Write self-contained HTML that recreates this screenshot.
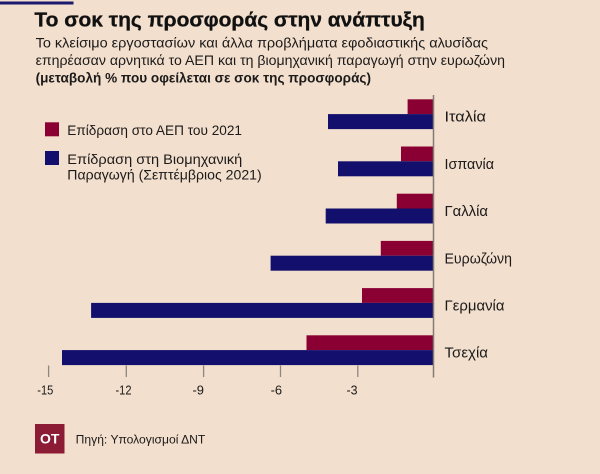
<!DOCTYPE html>
<html>
<head>
<meta charset="utf-8">
<style>
  html, body { margin: 0; padding: 0; background: #f2dfcd; }
  svg { display: block; }
  text { font-family: "Liberation Sans", "DejaVu Sans", sans-serif; fill: #1c1a1a; }
</style>
</head>
<body>
<svg width="600" height="474" viewBox="0 0 600 474" xmlns="http://www.w3.org/2000/svg">
  <rect x="0" y="0" width="600" height="474" fill="#f2dfcd"/>
  <!-- top accent line -->
  <rect x="0" y="1.5" width="73.5" height="3" fill="#1b1a6e"/>

  <!-- title -->
  <text x="34.4" y="26.5" font-size="20" font-weight="bold" textLength="390.4" lengthAdjust="spacingAndGlyphs" style="fill:#111;stroke:#111;stroke-width:0.3">Το σοκ της προσφοράς στην ανάπτυξη</text>
  <!-- subtitle -->
  <text x="35.6" y="47.5" font-size="14" textLength="452.4" lengthAdjust="spacingAndGlyphs">Το κλείσιμο εργοστασίων και άλλα προβλήματα εφοδιαστικής αλυσίδας</text>
  <text x="35.6" y="65" font-size="14" textLength="469.4" lengthAdjust="spacingAndGlyphs">επηρέασαν αρνητικά το ΑΕΠ και τη βιομηχανική παραγωγή στην ευρωζώνη</text>
  <text x="35.6" y="82.5" font-size="14" font-weight="bold" textLength="335.4" lengthAdjust="spacingAndGlyphs">(μεταβολή % που οφείλεται σε σοκ της προσφοράς)</text>

  <!-- legend -->
  <rect x="45" y="122.3" width="14" height="14" fill="#8a0032"/>
  <text x="67.3" y="135" font-size="13.5" textLength="174.7" lengthAdjust="spacingAndGlyphs">Επίδραση στο ΑΕΠ του 2021</text>
  <rect x="45" y="151" width="14" height="14" fill="#12106c"/>
  <text x="67.3" y="164" font-size="13.5" textLength="175" lengthAdjust="spacingAndGlyphs">Επίδραση στη Βιομηχανική</text>
  <text x="67.3" y="179.5" font-size="13.5" textLength="194.4" lengthAdjust="spacingAndGlyphs">Παραγωγή (Σεπτέμβριος 2021)</text>

  <!-- bars -->
  <rect x="407.6" y="99.3" width="25.9" height="14.8" fill="#8a0032"/>
  <rect x="328" y="114.1" width="105.5" height="15" fill="#12106c"/>
  <rect x="401" y="146.5" width="32.5" height="14.8" fill="#8a0032"/>
  <rect x="338" y="161.3" width="95.5" height="15" fill="#12106c"/>
  <rect x="396.8" y="193.7" width="36.7" height="14.8" fill="#8a0032"/>
  <rect x="325.7" y="208.5" width="107.8" height="15" fill="#12106c"/>
  <rect x="380.8" y="240.9" width="52.7" height="14.8" fill="#8a0032"/>
  <rect x="270.6" y="255.7" width="162.9" height="15" fill="#12106c"/>
  <rect x="362" y="288.1" width="71.5" height="14.8" fill="#8a0032"/>
  <rect x="91.1" y="302.9" width="342.4" height="15" fill="#12106c"/>
  <rect x="306.5" y="335.3" width="127" height="14.8" fill="#8a0032"/>
  <rect x="62" y="350.1" width="371.5" height="15" fill="#12106c"/>

  <!-- axis line -->
  <line x1="433.5" y1="95" x2="433.5" y2="377.5" stroke="#857a76" stroke-width="1.5"/>
  <!-- ticks -->
  <g stroke="#8f8683" stroke-width="1.3">
    <line x1="48.6" y1="365.5" x2="48.6" y2="377"/>
    <line x1="126.3" y1="365.5" x2="126.3" y2="377"/>
    <line x1="203.6" y1="365.5" x2="203.6" y2="377"/>
    <line x1="280.5" y1="365.5" x2="280.5" y2="377"/>
    <line x1="357.8" y1="365.5" x2="357.8" y2="377"/>
  </g>
  <!-- tick labels -->
  <g font-size="13">
    <text x="37.3" y="394.5" textLength="16" lengthAdjust="spacingAndGlyphs">-15</text>
    <text x="115.5" y="394.5" textLength="16" lengthAdjust="spacingAndGlyphs">-12</text>
    <text x="192.5" y="394.5" textLength="11.5" lengthAdjust="spacingAndGlyphs">-9</text>
    <text x="270.6" y="394.5" textLength="11.5" lengthAdjust="spacingAndGlyphs">-6</text>
    <text x="346.5" y="394.5" textLength="11" lengthAdjust="spacingAndGlyphs">-3</text>
  </g>

  <!-- country labels -->
  <g font-size="15">
    <text x="444.5" y="121.7" textLength="41.5" lengthAdjust="spacingAndGlyphs">Ιταλία</text>
    <text x="444.5" y="168.9" textLength="49.5" lengthAdjust="spacingAndGlyphs">Ισπανία</text>
    <text x="444.5" y="216.1" textLength="43.5" lengthAdjust="spacingAndGlyphs">Γαλλία</text>
    <text x="444.5" y="263.3" textLength="67.5" lengthAdjust="spacingAndGlyphs">Ευρωζώνη</text>
    <text x="444.5" y="310.5" textLength="60" lengthAdjust="spacingAndGlyphs">Γερμανία</text>
    <text x="444.5" y="357.7" textLength="43.5" lengthAdjust="spacingAndGlyphs">Τσεχία</text>
  </g>

  <!-- footer -->
  <rect x="35" y="424" width="29.5" height="29.5" fill="#8c1b36"/>
  <text x="49.7" y="443.5" font-size="14" font-weight="bold" text-anchor="middle" style="fill:#ffffff">OT</text>
  <text x="75.7" y="443.5" font-size="11.5" textLength="129.6" lengthAdjust="spacingAndGlyphs">Πηγή: Υπολογισμοί ΔΝΤ</text>
</svg>
</body>
</html>
